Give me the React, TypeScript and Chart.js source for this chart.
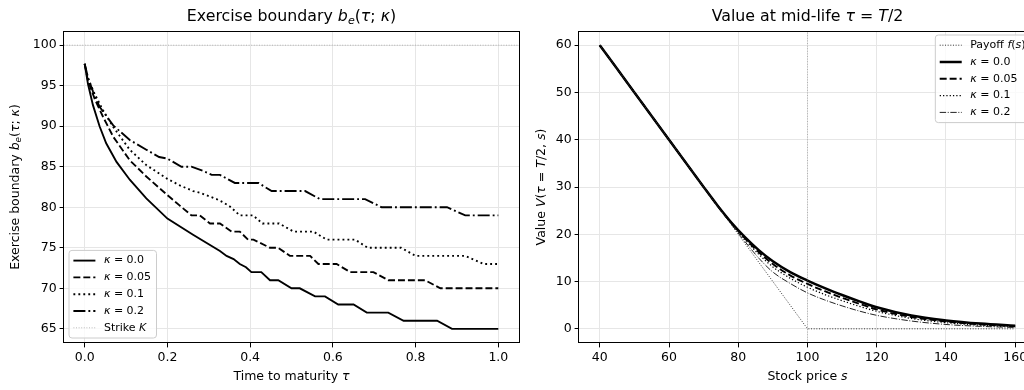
import React, { useEffect, useRef } from "react";
import { Chart, registerables } from "chart.js";

Chart.register(...registerables);

const FONT = "'DejaVu Sans', 'Noto Sans', sans-serif";

// ---------- Left panel: exercise boundary ----------
const tauTicks = [0, 0.2, 0.4, 0.6, 0.8, 1.0];
const boundaryTicks = [65, 70, 75, 80, 85, 90, 95, 100];
const strikeK = 100;

const tauK0 = [0, 0.008, 0.02, 0.036, 0.052, 0.077, 0.109, 0.149, 0.2, 0.262, 0.327, 0.343, 0.36, 0.375, 0.39, 0.403, 0.427, 0.448, 0.468, 0.5, 0.52, 0.557, 0.581, 0.613, 0.65, 0.682, 0.734, 0.771, 0.852, 0.888, 1.0];
const bK0 = [97.7, 95.2, 92.6, 90.0, 87.9, 85.6, 83.4, 81.1, 78.6, 76.6, 74.6, 74.0, 73.6, 73.0, 72.6, 72.0, 72.0, 71.0, 71.0, 70.0, 70.0, 69.0, 69.0, 68.0, 68.0, 67.0, 67.0, 66.0, 66.0, 65.0, 65.0];

const tauK05 = [0, 0.008, 0.024, 0.044, 0.069, 0.109, 0.149, 0.2, 0.23, 0.258, 0.278, 0.303, 0.327, 0.355, 0.375, 0.395, 0.408, 0.448, 0.468, 0.496, 0.545, 0.565, 0.609, 0.642, 0.698, 0.734, 0.823, 0.86, 1.0];
const bK05 = [97.7, 95.6, 93.4, 91.2, 88.7, 85.8, 83.8, 81.5, 80.2, 79, 79, 78, 78, 77, 77, 76, 76, 75, 75, 74, 74, 73, 73, 72, 72, 71, 71, 70, 70];

const tauK1 = [0, 0.008, 0.024, 0.044, 0.069, 0.109, 0.149, 0.2, 0.23, 0.262, 0.278, 0.319, 0.335, 0.351, 0.375, 0.407, 0.43, 0.47, 0.505, 0.553, 0.585, 0.654, 0.684, 0.765, 0.8, 0.92, 0.965, 1.0];
const bK1 = [97.7, 95.9, 94.0, 92.0, 89.9, 87.1, 85.2, 83.5, 82.7, 82.0, 81.8, 81.0, 80.6, 80.1, 79, 79, 78, 78, 77, 77, 76, 76, 75, 75, 74, 74, 73, 73];

const tauK2 = [0, 0.008, 0.02, 0.036, 0.069, 0.109, 0.149, 0.18, 0.2, 0.234, 0.258, 0.285, 0.307, 0.327, 0.363, 0.42, 0.452, 0.533, 0.569, 0.678, 0.718, 0.876, 0.92, 1.0];
const bK2 = [97.7, 96.0, 94.3, 92.4, 90.1, 88.3, 87.1, 86.2, 86.0, 85.0, 85.0, 84.5, 84.0, 84.0, 83.0, 83.0, 82.0, 82.0, 81.0, 81.0, 80.0, 80.0, 79.0, 79.0];

// ---------- Right panel: value at mid-life ----------
const sTicks = [40, 60, 80, 100, 120, 140, 160];
const valueTicks = [0, 10, 20, 30, 40, 50, 60];

const sGrid = [40, 50, 60, 70, 74, 78, 82, 86, 90, 95, 100, 105, 110, 115, 120, 130, 140, 150, 160];
const vK0 = [60, 50, 40, 30, 26.1, 22.5, 19.35, 16.6, 14.3, 12.0, 10.2, 8.6, 7.15, 5.8, 4.55, 2.8, 1.78, 1.1, 0.65];
const vK05 = [60, 50, 40, 30, 26.05, 22.4, 19.1, 16.15, 13.7, 11.3, 9.5, 7.95, 6.55, 5.3, 4.1, 2.5, 1.55, 0.93, 0.55];
const vK1 = [60, 50, 40, 30, 26.0, 22.3, 18.85, 15.7, 13.1, 10.7, 8.8, 7.25, 5.95, 4.75, 3.7, 2.2, 1.3, 0.76, 0.45];
const vK2 = [60, 50, 40, 30, 26.0, 22.1, 18.4, 14.9, 12.0, 9.6, 7.6, 6.1, 4.85, 3.75, 2.85, 1.65, 0.92, 0.52, 0.28];

const payoffS = [40, 100, 160];
const payoffV = [60, 0, 0];

// ---------- helpers ----------
type Seg = { t: string; s?: "i" | "sub" };
const n = (t: string): Seg => ({ t });
const it = (t: string): Seg => ({ t, s: "i" });
const sub = (t: string): Seg => ({ t, s: "sub" });

function segFont(seg: Seg, size: number) {
  if (seg.s === "sub") return `italic ${size * 0.7}px ${FONT}`;
  if (seg.s === "i") return `italic ${size}px ${FONT}`;
  return `${size}px ${FONT}`;
}
function richWidth(ctx: CanvasRenderingContext2D, segs: Seg[], size: number) {
  let w = 0;
  for (const s of segs) {
    ctx.font = segFont(s, size);
    w += ctx.measureText(s.t).width;
  }
  return w;
}
function drawRich(ctx: CanvasRenderingContext2D, segs: Seg[], x: number, y: number, size: number, align: "left" | "center") {
  const w = richWidth(ctx, segs, size);
  let cx = align === "center" ? x - w / 2 : x;
  ctx.textBaseline = "middle";
  ctx.textAlign = "left";
  ctx.fillStyle = "#000";
  for (const s of segs) {
    ctx.font = segFont(s, size);
    ctx.fillText(s.t, cx, s.s === "sub" ? y + size * 0.25 : y);
    cx += ctx.measureText(s.t).width;
  }
}

const pts = (xs: number[], ys: number[]) => xs.map((x, i) => ({ x, y: ys[i] }));

const decorPlugin = {
  id: "decor",
  afterDraw(chart: any, _args: any, opts: any) {
    const { ctx, chartArea: a } = chart;
    ctx.save();
    // frame
    ctx.strokeStyle = "#000";
    ctx.lineWidth = 1;
    ctx.setLineDash([]);
    ctx.strokeRect(Math.round(a.left) - 0.5, Math.round(a.top) + 0.5, Math.round(a.right - a.left) + 1, Math.round(a.bottom - a.top) - 1);
    const cx = (a.left + a.right) / 2;
    // title
    drawRich(ctx, opts.title, cx, opts.titleY, 15.8, "center");
    // x axis title
    drawRich(ctx, opts.xTitle, cx, opts.xTitleY, 12.5, "center");
    // y axis title
    ctx.save();
    ctx.translate(opts.yTitleX, (a.top + a.bottom) / 2);
    ctx.rotate(-Math.PI / 2);
    drawRich(ctx, opts.yTitle, 0, 0, 12.5, "center");
    ctx.restore();
    // legend
    const items = chart.data.datasets.filter((d: any) => d.legendSegs);
    const fs = 11;
    const pad = 4.4, handle = 22, tpad = 8.5, pitch = 16.8, edge = 10.2;
    let maxW = 0;
    for (const d of items) maxW = Math.max(maxW, richWidth(ctx, d.legendSegs, fs));
    const bw = pad + handle + tpad + maxW + pad + 1;
    const bh = (items.length - 1) * pitch + 2 * edge;
    let bx: number, by: number;
    if (opts.legendCorner === "ll") {
      bx = a.left + 5;
      by = a.bottom - 5 - bh;
    } else {
      bx = a.right - 5 - bw;
      by = a.top + 4;
    }
    ctx.beginPath();
    const r = 3;
    ctx.moveTo(bx + r, by);
    ctx.arcTo(bx + bw, by, bx + bw, by + bh, r);
    ctx.arcTo(bx + bw, by + bh, bx, by + bh, r);
    ctx.arcTo(bx, by + bh, bx, by, r);
    ctx.arcTo(bx, by, bx + bw, by, r);
    ctx.closePath();
    ctx.fillStyle = "rgba(255,255,255,0.8)";
    ctx.fill();
    ctx.strokeStyle = "#cccccc";
    ctx.lineWidth = 1;
    ctx.stroke();
    items.forEach((d: any, i: number) => {
      const y = by + edge + i * pitch;
      ctx.beginPath();
      ctx.strokeStyle = d.borderColor;
      ctx.lineWidth = d.borderWidth;
      ctx.setLineDash(d.borderDash || []);
      ctx.moveTo(bx + pad, y);
      ctx.lineTo(bx + pad + handle, y);
      ctx.stroke();
      ctx.setLineDash([]);
      drawRich(ctx, d.legendSegs, bx + pad + handle + tpad, y, fs, "left");
    });
    ctx.restore();
  },
};

const GRID = "#e6e6e6";

function makeScale(min: number, max: number, ticks: number[], fmt: (v: number) => string, fit: (s: any) => void) {
  return {
    type: "linear",
    min,
    max,
    afterBuildTicks: (s: any) => {
      s.ticks = ticks.map((v) => ({ value: v }));
    },
    afterFit: fit,
    ticks: {
      callback: (v: any) => fmt(Number(v)),
      font: { family: FONT, size: 12.5 },
      color: "#000",
      padding: 3,
      maxRotation: 0,
      autoSkip: false,
    },
    grid: { color: GRID, lineWidth: 1, tickLength: 4.4, tickColor: "#000", tickWidth: 1, drawTicks: true },
    border: { display: false },
    title: { display: false },
  };
}

const DASH = [6.94, 3.0];
const DOT = [1.875, 3.09];
const DASHDOT = [12, 3, 1.875, 3];

function leftConfig(): any {
  const lw = 1.875;
  return {
    type: "line",
    data: {
      datasets: [
        { data: pts(tauK0, bK0), borderColor: "#000", borderWidth: lw, borderDash: [], legendSegs: [it("κ"), n(" = 0.0")] },
        { data: pts(tauK05, bK05), borderColor: "#000", borderWidth: lw, borderDash: DASH, legendSegs: [it("κ"), n(" = 0.05")] },
        { data: pts(tauK1, bK1), borderColor: "#000", borderWidth: lw, borderDash: DOT, legendSegs: [it("κ"), n(" = 0.1")] },
        { data: pts(tauK2, bK2), borderColor: "#000", borderWidth: lw, borderDash: DASHDOT, legendSegs: [it("κ"), n(" = 0.2")] },
        { data: [{ x: -0.05, y: strikeK }, { x: 1.05, y: strikeK }], borderColor: "rgba(128,128,128,0.7)", borderWidth: 0.75, borderDash: [1, 1.6], legendSegs: [n("Strike "), it("K")] },
      ],
    },
    options: {
      responsive: false,
      animation: false,
      devicePixelRatio: 1,
      layout: { padding: { left: 0, right: 11, top: 31, bottom: 0 } },
      elements: { point: { radius: 0 }, line: { tension: 0 } },
      scales: {
        x: makeScale(-0.05, 1.05, tauTicks, (v) => v.toFixed(1), (s: any) => { s.height = 47; }),
        y: makeScale(63.25, 101.75, boundaryTicks, (v) => String(v), (s: any) => { s.width = 64; }),
      },
      plugins: {
        legend: { display: false },
        tooltip: { enabled: false },
        title: { display: false },
        decor: {
          title: [n("Exercise boundary "), it("b"), sub("e"), n("("), it("τ"), n("; "), it("κ"), n(")")],
          titleY: 17,
          xTitle: [n("Time to maturity "), it("τ")],
          xTitleY: 377,
          yTitle: [n("Exercise boundary "), it("b"), sub("e"), n("("), it("τ"), n("; "), it("κ"), n(")")],
          yTitleX: 16,
          legendCorner: "ll",
        },
      },
    },
    plugins: [decorPlugin],
  };
}

function rightConfig(): any {
  return {
    type: "line",
    data: {
      datasets: [
        { data: [{ x: strikeK, y: -3 }, { x: strikeK, y: 63 }], borderColor: "rgba(128,128,128,0.7)", borderWidth: 0.75, borderDash: [1, 1.6], cubicInterpolationMode: "default" },
        { data: pts(payoffS, payoffV), borderColor: "#333", borderWidth: 1, borderDash: [1, 1.65], cubicInterpolationMode: "default", legendSegs: [n("Payoff "), it("f"), n("("), it("s"), n(")")] },
        { data: pts(sGrid, vK0), borderColor: "#000", borderWidth: 2.5, borderDash: [], cubicInterpolationMode: "monotone", legendSegs: [it("κ"), n(" = 0.0")] },
        { data: pts(sGrid, vK05), borderColor: "#000", borderWidth: 1.875, borderDash: DASH, cubicInterpolationMode: "monotone", legendSegs: [it("κ"), n(" = 0.05")] },
        { data: pts(sGrid, vK1), borderColor: "#000", borderWidth: 1.25, borderDash: [1.25, 2.06], cubicInterpolationMode: "monotone", legendSegs: [it("κ"), n(" = 0.1")] },
        { data: pts(sGrid, vK2), borderColor: "#222", borderWidth: 1, borderDash: [6.4, 1.6, 1, 1.6], cubicInterpolationMode: "monotone", legendSegs: [it("κ"), n(" = 0.2")] },
      ],
    },
    options: {
      responsive: false,
      animation: false,
      devicePixelRatio: 1,
      layout: { padding: { left: 0, right: 4, top: 31, bottom: 0 } },
      elements: { point: { radius: 0 } },
      scales: {
        x: makeScale(34, 166, sTicks, (v) => String(v), (s: any) => { s.height = 47; }),
        y: makeScale(-3, 63, valueTicks, (v) => String(v), (s: any) => { s.width = 49; }),
      },
      plugins: {
        legend: { display: false },
        tooltip: { enabled: false },
        title: { display: false },
        decor: {
          title: [n("Value at mid-life "), it("τ"), n(" = "), it("T"), n("/2")],
          titleY: 17,
          xTitle: [n("Stock price "), it("s")],
          xTitleY: 377,
          yTitle: [n("Value "), it("V"), n("("), it("τ"), n(" = "), it("T"), n("/2, "), it("s"), n(")")],
          yTitleX: 12,
          legendCorner: "ur",
        },
      },
    },
    plugins: [decorPlugin],
  };
}

export default function App() {
  const leftRef = useRef<HTMLCanvasElement | null>(null);
  const rightRef = useRef<HTMLCanvasElement | null>(null);
  useEffect(() => {
    const c1 = new Chart(leftRef.current as HTMLCanvasElement, leftConfig());
    const c2 = new Chart(rightRef.current as HTMLCanvasElement, rightConfig());
    return () => {
      c1.destroy();
      c2.destroy();
    };
  }, []);
  return (
    <div style={{ position: "fixed", left: 0, top: 0, width: 1024, height: 390, overflow: "hidden", background: "#fff" }}>
      <canvas ref={leftRef} width={530} height={390} style={{ position: "absolute", left: 0, top: 0, width: 530, height: 390 }} />
      <canvas ref={rightRef} width={510} height={390} style={{ position: "absolute", left: 530, top: 0, width: 510, height: 390 }} />
    </div>
  );
}
